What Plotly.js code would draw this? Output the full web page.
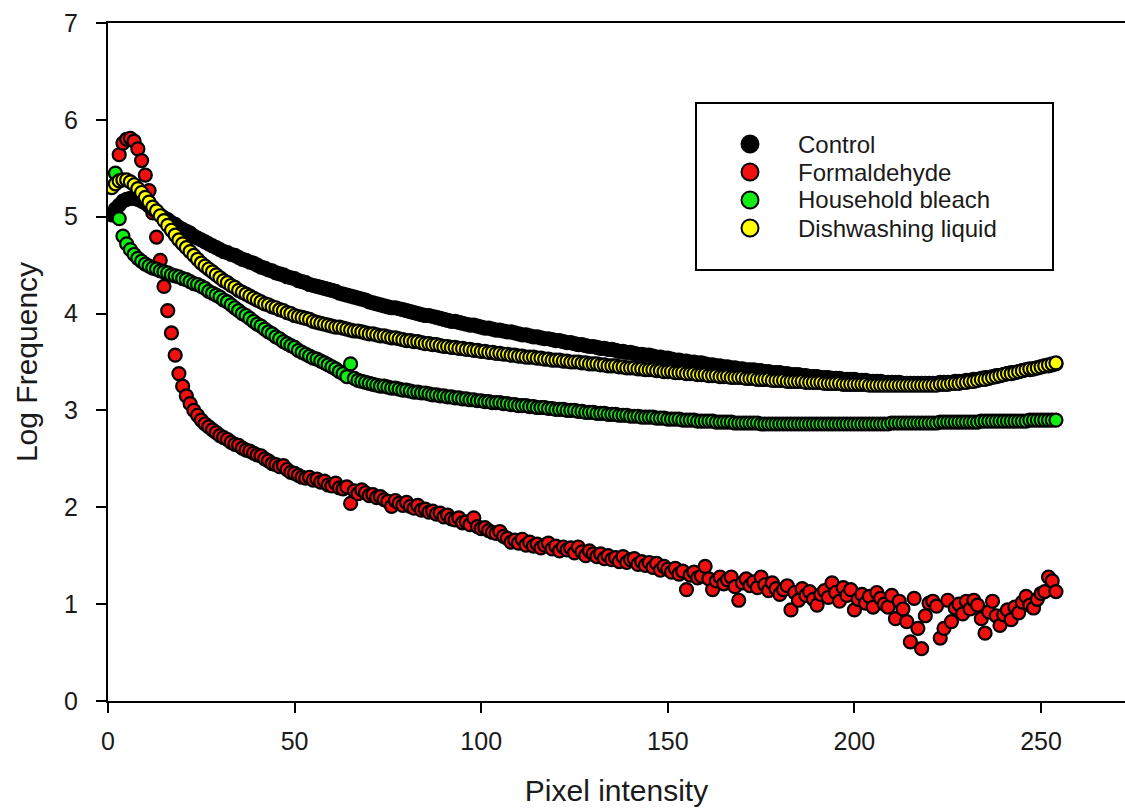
<!DOCTYPE html>
<html>
<head>
<meta charset="utf-8">
<script src="https://cdn.plot.ly/plotly-3.0.1.min.js"></script>
<style>
html,body{margin:0;padding:0;background:#fff;}
#chart{width:1125px;height:809px;}
</style>
</head>
<body>
<div id="chart"></div>
<script>
// Series names (legend order)
const seriesNames = ["Control", "Formaldehyde", "Household bleach", "Dishwashing liquid"];
const seriesColors = ["#000000", "#f01010", "#11ee11", "#ffff00"];

// First pixel intensity of each series (values are consecutive intensities)
const controlStart = 1;
const formaldehydeStart = 3;
const bleachStart = 2;
const dishStart = 1;

// Log frequency values
const controlY = [
5.02,5.08,5.12,5.16,5.18,5.19,5.19,5.18,5.16,5.14,
5.11,5.08,5.05,5.02,4.99,4.97,4.94,4.92,4.89,4.87,
4.85,4.83,4.80,4.78,4.76,4.74,4.72,4.70,4.68,4.66,
4.64,4.63,4.61,4.60,4.58,4.56,4.55,4.53,4.52,4.50,
4.48,4.47,4.45,4.44,4.42,4.41,4.40,4.38,4.37,4.36,
4.34,4.33,4.32,4.30,4.29,4.28,4.27,4.26,4.25,4.24,
4.23,4.21,4.20,4.19,4.18,4.17,4.16,4.15,4.14,4.12,
4.11,4.10,4.09,4.08,4.07,4.06,4.06,4.05,4.04,4.03,
4.02,4.01,4.00,3.99,3.98,3.98,3.97,3.96,3.95,3.94,
3.93,3.92,3.92,3.91,3.90,3.89,3.88,3.88,3.87,3.86,
3.85,3.85,3.84,3.83,3.83,3.82,3.81,3.81,3.80,3.79,
3.78,3.78,3.77,3.76,3.76,3.75,3.74,3.74,3.73,3.72,
3.72,3.71,3.70,3.70,3.69,3.68,3.68,3.67,3.66,3.66,
3.65,3.64,3.64,3.63,3.63,3.62,3.61,3.61,3.60,3.60,
3.59,3.58,3.58,3.57,3.57,3.56,3.55,3.55,3.54,3.54,
3.53,3.52,3.52,3.51,3.51,3.50,3.50,3.49,3.49,3.48,
3.47,3.47,3.46,3.46,3.45,3.45,3.44,3.44,3.43,3.43,
3.42,3.42,3.42,3.41,3.41,3.40,3.40,3.39,3.39,3.39,
3.38,3.38,3.37,3.37,3.37,3.36,3.36,3.35,3.35,3.35,
3.34,3.34,3.34,3.33,3.33,3.33,3.32,3.32,3.32,3.32,
3.31,3.31,3.31,3.30,3.30,3.30,3.30,3.29,3.29,3.29,
3.29,3.29,3.28,3.28,3.28,3.28,3.28,3.28,3.28,3.28,
3.28,3.28,3.29,3.29,3.29,3.29,3.30,3.30,3.30,3.31,
3.31,3.32,3.32,3.33,3.34,3.34,3.35,3.36,3.36,3.37,
3.38,3.39,3.39,3.40,3.41,3.42,3.42,3.43,3.44,3.45,
3.46,3.46,3.47,3.48
];

const formaldehydeY = [
5.64,5.76,5.80,5.81,5.78,5.70,5.58,5.43,5.27,5.04,
4.79,4.55,4.28,4.03,3.80,3.57,3.38,3.25,3.15,3.07,
3.00,2.95,2.90,2.86,2.83,2.80,2.77,2.74,2.72,2.70,
2.67,2.65,2.64,2.61,2.59,2.58,2.56,2.54,2.53,2.50,
2.48,2.45,2.44,2.42,2.43,2.39,2.36,2.35,2.33,2.31,
2.30,2.31,2.28,2.29,2.26,2.27,2.23,2.22,2.25,2.20,
2.19,2.21,2.04,2.17,2.14,2.18,2.15,2.12,2.13,2.10,
2.11,2.08,2.06,2.01,2.07,2.04,2.02,2.05,2.01,1.99,
2.02,1.97,1.98,1.95,1.96,1.93,1.94,1.90,1.92,1.88,
1.87,1.89,1.84,1.85,1.82,1.89,1.80,1.78,1.79,1.76,
1.74,1.73,1.75,1.70,1.68,1.64,1.66,1.63,1.67,1.61,
1.64,1.60,1.62,1.58,1.61,1.63,1.57,1.60,1.55,1.59,
1.56,1.58,1.53,1.59,1.54,1.50,1.55,1.52,1.49,1.52,
1.47,1.50,1.46,1.48,1.44,1.49,1.43,1.46,1.47,1.41,
1.44,1.40,1.43,1.38,1.42,1.35,1.39,1.36,1.33,1.37,
1.31,1.34,1.15,1.30,1.33,1.27,1.29,1.39,1.26,1.15,
1.24,1.28,1.21,1.25,1.28,1.18,1.04,1.22,1.26,1.19,
1.23,1.17,1.28,1.20,1.14,1.22,1.16,1.10,1.15,1.19,
0.94,1.12,1.04,1.16,1.09,1.13,1.05,0.99,1.10,1.14,
1.07,1.22,1.12,1.03,1.17,1.09,1.15,0.94,1.05,1.10,
1.01,1.08,0.97,1.12,1.06,1.00,0.97,1.09,0.85,1.03,
0.95,0.82,0.61,1.06,0.75,0.54,0.88,1.01,1.03,0.98,
0.65,0.75,1.04,0.82,0.96,1.00,0.90,1.03,0.95,1.04,
0.99,0.85,0.70,0.92,1.03,0.88,0.78,0.89,0.94,0.84,
0.97,0.91,1.02,1.08,0.99,0.96,1.05,1.11,1.13,1.28,
1.24,1.13
];

const bleachY = [
5.45,4.98,4.80,4.72,4.66,4.61,4.57,4.54,4.51,4.49,
4.47,4.46,4.44,4.43,4.42,4.40,4.39,4.38,4.36,4.35,
4.33,4.31,4.30,4.28,4.26,4.23,4.21,4.19,4.17,4.14,
4.12,4.09,4.06,4.03,4.00,3.98,3.95,3.92,3.89,3.87,
3.84,3.81,3.79,3.76,3.74,3.71,3.69,3.67,3.65,3.62,
3.60,3.58,3.56,3.54,3.53,3.51,3.49,3.47,3.45,3.43,
3.40,3.38,3.35,3.48,3.33,3.31,3.30,3.29,3.28,3.27,
3.26,3.25,3.25,3.24,3.23,3.23,3.22,3.21,3.21,3.20,
3.19,3.19,3.18,3.18,3.17,3.16,3.16,3.15,3.15,3.14,
3.14,3.13,3.13,3.12,3.12,3.11,3.11,3.10,3.10,3.09,
3.09,3.08,3.08,3.08,3.07,3.07,3.06,3.06,3.05,3.05,
3.05,3.04,3.04,3.03,3.03,3.03,3.02,3.02,3.01,3.01,
3.01,3.00,3.00,3.00,2.99,2.99,2.98,2.98,2.98,2.97,
2.97,2.97,2.96,2.96,2.96,2.95,2.95,2.95,2.94,2.94,
2.94,2.93,2.93,2.93,2.93,2.92,2.92,2.92,2.91,2.91,
2.91,2.91,2.90,2.90,2.90,2.90,2.89,2.89,2.89,2.89,
2.89,2.88,2.88,2.88,2.88,2.88,2.87,2.87,2.87,2.87,
2.87,2.87,2.87,2.86,2.86,2.86,2.86,2.86,2.86,2.86,
2.86,2.86,2.86,2.86,2.86,2.86,2.86,2.86,2.86,2.86,
2.86,2.86,2.86,2.86,2.86,2.86,2.86,2.86,2.86,2.86,
2.86,2.86,2.86,2.86,2.86,2.86,2.86,2.86,2.87,2.87,
2.87,2.87,2.87,2.87,2.87,2.87,2.87,2.87,2.87,2.87,
2.87,2.88,2.88,2.88,2.88,2.88,2.88,2.88,2.88,2.88,
2.88,2.88,2.89,2.89,2.89,2.89,2.89,2.89,2.89,2.89,
2.89,2.89,2.89,2.89,2.89,2.90,2.90,2.90,2.90,2.90,
2.90,2.90,2.90
];

const dishY = [
5.30,5.34,5.37,5.38,5.38,5.36,5.33,5.29,5.25,5.20,
5.15,5.10,5.06,5.01,4.96,4.91,4.86,4.81,4.76,4.72,
4.68,4.64,4.60,4.56,4.52,4.49,4.46,4.43,4.40,4.37,
4.34,4.32,4.29,4.27,4.24,4.22,4.20,4.18,4.16,4.14,
4.12,4.10,4.09,4.07,4.06,4.04,4.03,4.01,4.00,3.98,
3.97,3.96,3.95,3.94,3.92,3.91,3.90,3.89,3.88,3.87,
3.86,3.86,3.85,3.84,3.83,3.82,3.82,3.81,3.80,3.79,
3.79,3.78,3.77,3.77,3.76,3.75,3.75,3.74,3.73,3.72,
3.72,3.71,3.71,3.70,3.69,3.69,3.68,3.68,3.67,3.66,
3.66,3.65,3.65,3.64,3.64,3.63,3.63,3.62,3.62,3.61,
3.61,3.60,3.60,3.59,3.59,3.58,3.58,3.57,3.57,3.56,
3.56,3.55,3.55,3.55,3.54,3.54,3.53,3.53,3.52,3.52,
3.52,3.51,3.51,3.50,3.50,3.50,3.49,3.49,3.48,3.48,
3.48,3.47,3.47,3.46,3.46,3.46,3.45,3.45,3.44,3.44,
3.44,3.43,3.43,3.42,3.42,3.42,3.41,3.41,3.40,3.40,
3.40,3.39,3.39,3.39,3.38,3.38,3.38,3.37,3.37,3.37,
3.36,3.36,3.36,3.35,3.35,3.35,3.34,3.34,3.34,3.34,
3.33,3.33,3.33,3.32,3.32,3.32,3.32,3.31,3.31,3.31,
3.31,3.30,3.30,3.30,3.30,3.30,3.29,3.29,3.29,3.29,
3.29,3.28,3.28,3.28,3.28,3.28,3.27,3.27,3.27,3.27,
3.27,3.27,3.27,3.26,3.26,3.26,3.26,3.26,3.26,3.26,
3.26,3.26,3.26,3.26,3.26,3.26,3.26,3.26,3.26,3.26,
3.26,3.26,3.27,3.27,3.27,3.28,3.28,3.28,3.29,3.29,
3.30,3.30,3.31,3.32,3.32,3.33,3.34,3.35,3.36,3.37,
3.38,3.38,3.39,3.40,3.41,3.42,3.43,3.43,3.44,3.45,
3.46,3.47,3.48,3.49
];

// Axis ticks
const xTicks = [0, 50, 100, 150, 200, 250];
const yTicks = [0, 1, 2, 3, 4, 5, 6, 7];

function intensities(start, n) {
  const out = [];
  for (let i = 0; i < n; i++) out.push(start + i);
  return out;
}

const FONT = "Arial, 'Liberation Sans', sans-serif";
const TXT = "#1a1a1a";

function trace(idx, start, ys) {
  return {
    type: "scatter",
    mode: "markers",
    name: seriesNames[idx],
    x: intensities(start, ys.length),
    y: ys,
    showlegend: false,
    marker: { symbol: "circle", size: 13, color: seriesColors[idx], line: { color: "#000", width: 2.2 } },
    hoverinfo: "skip"
  };
}

const data = [
  trace(1, formaldehydeStart, formaldehydeY),
  trace(0, controlStart, controlY),
  trace(2, bleachStart, bleachY),
  trace(3, dishStart, dishY)
];

// Legend (drawn as box, symbol circles and text) in plot-pixel geometry
const W = 1125, H = 809, ML = 108, MR = 0, MT = 23, MB = 108;
const PW = W - ML - MR, PH = H - MT - MB;
const px2x = p => (p - ML) / PW;
const py2y = p => (H - MB - p) / PH;

const legendBox = { left: 696, right: 1053, top: 103, bottom: 270 };
const legendSymbolX = 750, legendTextX = 797, legendFirstRow = 144, legendRowStep = 28, legendSymbolR = 8.5;

const shapes = [{
  type: "rect", xref: "paper", yref: "paper",
  x0: px2x(legendBox.left), x1: px2x(legendBox.right),
  y0: py2y(legendBox.bottom), y1: py2y(legendBox.top),
  line: { color: "#000", width: 2 }, fillcolor: "rgba(0,0,0,0)", layer: "above"
}];
const annotations = [];
seriesNames.forEach((name, i) => {
  const cy = legendFirstRow + i * legendRowStep;
  shapes.push({
    type: "circle", xref: "paper", yref: "paper",
    x0: px2x(legendSymbolX - legendSymbolR), x1: px2x(legendSymbolX + legendSymbolR),
    y0: py2y(cy + legendSymbolR), y1: py2y(cy - legendSymbolR),
    fillcolor: seriesColors[i], line: { color: "#000", width: 2 }, layer: "above"
  });
  annotations.push({
    xref: "paper", yref: "paper", x: px2x(legendTextX), y: py2y(cy),
    xanchor: "left", yanchor: "middle", showarrow: false, text: name,
    borderpad: 0,
    font: { family: FONT, size: 24, color: TXT }
  });
});

const layout = {
  width: W,
  height: H,
  margin: { l: ML, r: MR, t: MT, b: MB, pad: 0 },
  paper_bgcolor: "#fff",
  plot_bgcolor: "#fff",
  font: { family: FONT, color: TXT },
  showlegend: false,
  xaxis: {
    range: [0, 272.5],
    tickvals: xTicks,
    ticktext: xTicks.map(String),
    ticks: "outside",
    ticklen: 10,
    tickwidth: 2,
    tickcolor: "#000",
    ticklabelstandoff: 7,
    showline: true,
    linewidth: 2,
    linecolor: "#000",
    mirror: true,
    showgrid: false,
    zeroline: false,
    tickfont: { family: FONT, size: 25, color: TXT },
    title: { text: "Pixel intensity", font: { family: FONT, size: 30, color: TXT }, standoff: 26 },
    automargin: false
  },
  yaxis: {
    range: [0, 7],
    tickvals: yTicks,
    ticktext: yTicks.map(String),
    ticks: "outside",
    ticklen: 10,
    tickwidth: 2,
    tickcolor: "#000",
    ticklabelstandoff: 13,
    showline: true,
    linewidth: 2,
    linecolor: "#000",
    mirror: false,
    showgrid: false,
    zeroline: false,
    tickfont: { family: FONT, size: 25, color: TXT },
    title: { text: "Log Frequency", font: { family: FONT, size: 30, color: TXT }, standoff: 18 },
    automargin: false
  },
  shapes: shapes,
  annotations: annotations
};

Plotly.newPlot("chart", data, layout, { displayModeBar: false, staticPlot: true });
</script>
</body>
</html>
